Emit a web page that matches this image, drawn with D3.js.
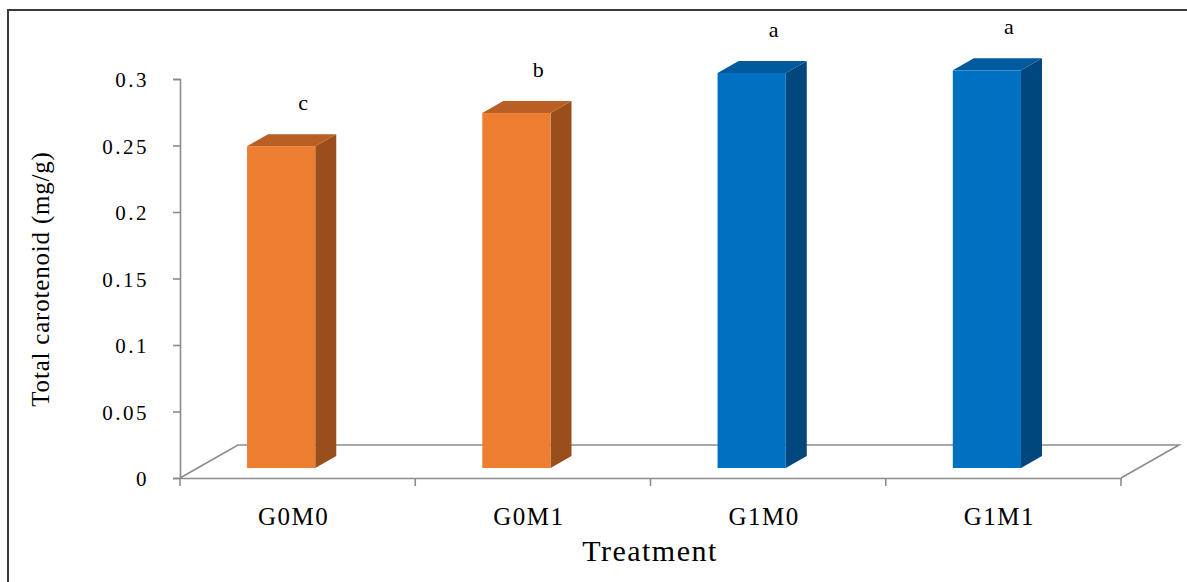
<!DOCTYPE html>
<html>
<head>
<meta charset="utf-8">
<script src="https://cdn.jsdelivr.net/npm/d3@7/dist/d3.min.js"></script>
<style>
  html, body { margin: 0; padding: 0; background: #fff; }
  svg { display: block; }
  text { font-family: "Liberation Serif", "Times New Roman", serif; fill: #000; }
</style>
</head>
<body>
<svg id="chart" width="1187" height="582"></svg>
<script>
// Total carotenoid content per treatment, with significance letters
const categories = ["G0M0", "G0M1", "G1M0", "G1M1"];
const carotenoid = [0.242, 0.267, 0.297, 0.299];
const letters = ["c", "b", "a", "a"];
const yTicks = [0, 0.05, 0.1, 0.15, 0.2, 0.25, 0.3];
const groupOf = ["G0", "G0", "G1", "G1"];

const palette = {
  G0: { front: "#ED7D31", top: "#B95E25", side: "#9A4E1C" },
  G1: { front: "#0070C0", top: "#005A9E", side: "#00477D" }
};

const svg = d3.select("#chart");

// outer frame (only top and left edges fall inside the view)
svg.append("rect")
  .attr("x", 8).attr("y", 10).attr("width", 1200).attr("height", 600)
  .attr("fill", "none").attr("stroke", "#3a3a3a").attr("stroke-width", 2);

const x = d3.scaleBand().domain(categories).range([180, 1121]).padding(0);
const y = d3.scaleLinear().domain([0, 0.3]).range([478, 79]);

// depth vectors of the oblique projection
const floorDepth = { dx: 58, dy: -33 };
const barDepth = { dx: 21, dy: -12 };
const barLift = 10;  // front face of the columns sits slightly back on the floor

const axisColor = "#8c8c8c";

// floor of the 3-D plot
const [x0, x1] = x.range();
const y0 = y(0);
svg.append("path")
  .attr("d", `M${x0},${y0} L${x0 + floorDepth.dx},${y0 + floorDepth.dy} L${x1 + floorDepth.dx},${y0 + floorDepth.dy} L${x1},${y0}`)
  .attr("fill", "none").attr("stroke", axisColor).attr("stroke-width", 1.6);

// value axis
const yAxis = svg.append("g").attr("transform", `translate(${x0},0)`)
  .call(d3.axisLeft(y).tickValues(yTicks).tickSize(7).tickPadding(24).tickFormat(d => String(d)));
yAxis.select(".domain").attr("stroke", axisColor).attr("stroke-width", 1.6);
yAxis.selectAll(".tick line").attr("stroke", axisColor).attr("stroke-width", 1.6);
yAxis.selectAll(".tick text")
  .attr("font-family", "Liberation Serif, serif")
  .attr("font-size", 21).attr("letter-spacing", 2.5).attr("fill", "#000")
  .attr("dy", "0.38em");

// category axis along the front edge of the floor
const xAxis = svg.append("g").attr("transform", `translate(0,${y0})`)
  .call(d3.axisBottom(x).tickSize(0).tickPadding(29));
xAxis.select(".domain").attr("stroke", axisColor).attr("stroke-width", 1.6);
xAxis.selectAll(".tick text")
  .attr("font-family", "Liberation Serif, serif")
  .attr("font-size", 25).attr("letter-spacing", 1.5).attr("fill", "#000")
  .attr("dx", -4);
// boundary tick marks between categories
const bounds = categories.map(c => x(c)).concat([x1]);
svg.append("g").selectAll("line").data(bounds).join("line")
  .attr("x1", d => d).attr("x2", d => d)
  .attr("y1", y0).attr("y2", y0 + 8)
  .attr("stroke", axisColor).attr("stroke-width", 1.6);

// columns
const bw = x.bandwidth();
const bars = categories.map((c, i) => {
  const left = x(c) + bw * 0.285;
  const w = bw * 0.29;
  const bottom = y(0) - barLift;
  const top = y(carotenoid[i]) - barLift;
  return { c, i, left, w, bottom, top, col: palette[groupOf[i]] };
});

const g = svg.append("g");
bars.forEach(b => {
  const { left, w, bottom, top, col } = b;
  const R = left + w;
  // side face
  g.append("path")
    .attr("d", `M${R},${bottom} L${R + barDepth.dx},${bottom + barDepth.dy} L${R + barDepth.dx},${top + barDepth.dy} L${R},${top} Z`)
    .attr("fill", col.side);
  // top face
  g.append("path")
    .attr("d", `M${left},${top} L${left + barDepth.dx},${top + barDepth.dy} L${R + barDepth.dx},${top + barDepth.dy} L${R},${top} Z`)
    .attr("fill", col.top);
  // front face
  g.append("rect")
    .attr("x", left).attr("y", top).attr("width", w).attr("height", bottom - top)
    .attr("fill", col.front);
  // significance letter
  g.append("text")
    .attr("x", left + 56).attr("y", top - 36)
    .attr("text-anchor", "middle")
    .attr("font-size", 22)
    .text(letters[b.i]);
});

// axis titles
svg.append("text")
  .attr("x", 650).attr("y", 561)
  .attr("text-anchor", "middle")
  .attr("font-size", 30).attr("letter-spacing", 1.5)
  .text("Treatment");

svg.append("text")
  .attr("transform", "translate(49,279) rotate(-90)")
  .attr("text-anchor", "middle")
  .attr("font-size", 25).attr("letter-spacing", 0.8)
  .text("Total carotenoid (mg/g)");
</script>
</body>
</html>
